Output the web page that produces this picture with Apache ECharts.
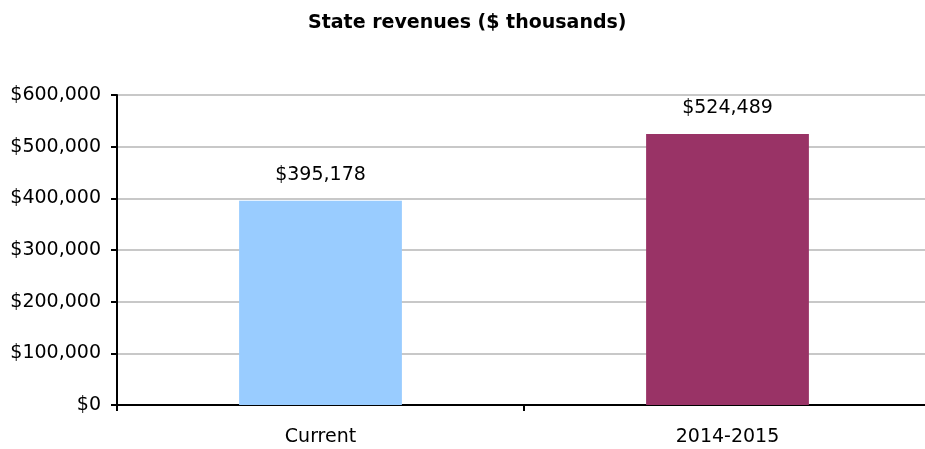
<!DOCTYPE html>
<html><head><meta charset="utf-8">
<script src="https://cdn.jsdelivr.net/npm/echarts@6/dist/echarts.min.js"></script>
<style>html,body{margin:0;padding:0;background:#fff;overflow:hidden}#c{width:925px;height:449px}</style>
</head><body><div id="c"></div>
<script>
const categories = ["Current", "2014-2015"];
const revenues = [395178, 524489];
const barColors = ["#99CCFF", "#993366"];
const yTicks = [0, 100000, 200000, 300000, 400000, 500000, 600000];

const FONT = "DejaVu Sans";
const fmt = v => "$" + Number(v).toLocaleString("en-US");
const chart = echarts.init(document.getElementById("c"));
chart.setOption({
  animation: false,
  title: {
    text: "State revenues ($ thousands)",
    left: 303, top: 9,
    textStyle: { fontFamily: FONT, fontWeight: "bold", fontSize: 19, color: "#000" }
  },
  grid: { left: 117, width: 814, top: 95, bottom: 44, containLabel: false, outerBoundsMode: "none" },
  xAxis: {
    type: "category", data: categories,
    axisLine: { lineStyle: { color: "#000", width: 2 } },
    axisTick: { show: true, length: 6, lineStyle: { color: "#000", width: 2 } },
    axisLabel: { fontFamily: FONT, fontSize: 19, color: "#000", margin: 23 }
  },
  yAxis: {
    type: "value", min: yTicks[0], max: yTicks[yTicks.length - 1], interval: 100000,
    axisLine: { show: true, lineStyle: { color: "#000", width: 2 } },
    axisTick: { show: true, length: 6, lineStyle: { color: "#000", width: 2 } },
    axisLabel: { fontFamily: FONT, fontSize: 19, color: "#000", margin: 16, formatter: fmt },
    splitLine: { lineStyle: { color: "#c8c8c8", width: 2 } }
  },
  series: [{
    type: "bar",
    data: revenues.map((v, i) => ({ value: v, itemStyle: { color: barColors[i] } })),
    barWidth: "40%",
    label: {
      show: true, position: "top", distance: 16,
      fontFamily: FONT, fontSize: 19, color: "#000",
      formatter: p => fmt(p.value)
    }
  }]
});
</script></body></html>
